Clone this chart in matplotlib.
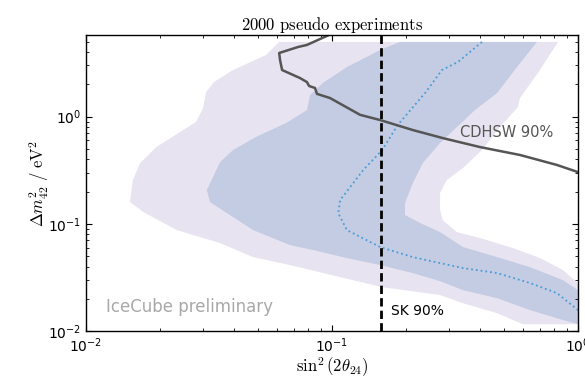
import numpy as np
import matplotlib
matplotlib.use('Agg')
import matplotlib.pyplot as plt

# sensitivity bands from 2000 pseudo experiments (outer band, inner band)
band_outer_s2t = [0.0610, 0.0540, 0.0396, 0.0331, 0.0308, 0.0299, 0.0280, 0.0193, 0.0166, 0.0155,
                  0.0151, 0.0171, 0.0234, 0.0351, 0.0478, 0.0675, 0.160, 0.275, 0.341, 0.469,
                  0.597, 1.0, 1.0, 0.869, 0.701, 0.545, 0.400, 0.322, 0.282, 0.275,
                  0.275, 0.293, 0.341, 0.407, 0.482, 0.570, 0.581, 0.687, 0.830]
band_outer_dm2 = [4.97, 3.76, 2.72, 2.10, 1.69, 1.20, 0.891, 0.520, 0.369, 0.256,
                  0.160, 0.129, 0.0875, 0.0662, 0.0490, 0.0413, 0.0257, 0.0217, 0.0182, 0.0147,
                  0.0116, 0.0116, 0.0281, 0.0371, 0.0480, 0.0594, 0.0738, 0.0838, 0.108, 0.135,
                  0.194, 0.256, 0.332, 0.488, 0.800, 1.23, 1.49, 2.55, 4.97]

band_inner_s2t = [0.189, 0.157, 0.115, 0.0918, 0.0815, 0.0791, 0.0650, 0.0491, 0.0396, 0.0351,
                  0.0310, 0.0319, 0.0374, 0.0478, 0.0675, 0.0838, 0.115, 0.157, 0.213, 0.275,
                  0.341, 0.469, 0.638, 0.869, 1.0, 1.0, 0.869, 0.638, 0.469, 0.341,
                  0.275, 0.228, 0.198, 0.198, 0.213, 0.234, 0.275, 0.322, 0.381, 0.469,
                  0.565, 0.681]
band_inner_dm2 = [4.97, 4.18, 2.90, 2.06, 1.59, 1.15, 0.871, 0.646, 0.488, 0.377,
                  0.207, 0.160, 0.126, 0.0875, 0.0634, 0.0570, 0.0480, 0.0413, 0.0348, 0.0292,
                  0.0241, 0.0203, 0.0157, 0.0127, 0.0116, 0.0241, 0.0299, 0.0395, 0.0490, 0.0608,
                  0.0838, 0.102, 0.121, 0.156, 0.240, 0.369, 0.568, 0.800, 1.15, 1.66,
                  2.90, 4.97]

# median sensitivity
median_s2t = [0.407, 0.325, 0.280, 0.239, 0.185, 0.160, 0.134, 0.108, 0.106, 0.115,
              0.157, 0.213, 0.275, 0.341, 0.469, 0.638, 0.822, 1.0]
median_dm2 = [4.97, 3.23, 2.72, 1.66, 0.836, 0.488, 0.318, 0.167, 0.126, 0.0875,
              0.0608, 0.0490, 0.0431, 0.0387, 0.0348, 0.0281, 0.0226, 0.0157]

# CDHSW 90% exclusion
cdhsw_s2t = [0.101, 0.0791, 0.0728, 0.0610, 0.0615, 0.0627, 0.0741, 0.0791, 0.0807, 0.0853,
             0.0869, 0.0982, 0.130, 0.157, 0.213, 0.282, 0.400, 0.581, 0.822, 1.0]
cdhsw_dm2 = [6.0, 4.66, 4.46, 3.92, 3.37, 2.72, 2.29, 2.10, 1.93, 1.85,
             1.63, 1.49, 1.04, 0.929, 0.750, 0.631, 0.520, 0.439, 0.354, 0.304]

# SK 90% limit
sk_s2t = 0.158

plt.rcParams['axes.unicode_minus'] = False

fig = plt.figure(figsize=(5.85, 3.78), dpi=100)
ax = fig.add_axes([0.147, 0.124, 0.841, 0.783])

ax.fill(band_outer_s2t, band_outer_dm2, color='#e8e3f0', lw=0)
ax.fill(band_inner_s2t, band_inner_dm2, color='#c3cce3', lw=0)
ax.plot(median_s2t, median_dm2, ':', color='#4a9bd6', lw=1.3)
ax.plot(cdhsw_s2t, cdhsw_dm2, '-', color='#555555', lw=1.8)
ax.axvline(sk_s2t, color='k', lw=2, dashes=(3, 1.5))

ax.set_xscale('log')
ax.set_yscale('log')
ax.set_xlim(1e-2, 1)
ax.set_ylim(1e-2, 5.75)

ax.tick_params(which='both', direction='in', top=True, right=True, labelsize=10)
ax.tick_params(which='major', length=4, width=0.8)
ax.tick_params(which='minor', length=2, width=0.6)
for sp in ax.spines.values():
    sp.set_linewidth(1.0)

ax.set_title(r'$\mathrm{2000\ pseudo\ experiments}$', math_fontfamily='cm', fontsize=12, pad=4)
ax.set_xlabel(r'$\sin^2(2\theta_{24})$', math_fontfamily='cm', fontsize=12, labelpad=1)
ax.set_ylabel(r'$\Delta m^2_{42}\ /\ \mathrm{eV}^2$', math_fontfamily='cm', fontsize=12, labelpad=-2)

ax.text(0.760, 0.672, 'CDHSW 90%', transform=ax.transAxes, color='#555555',
        fontsize=10.5, ha='left', va='center')
ax.text(0.620, 0.068, 'SK 90%', transform=ax.transAxes, color='black',
        fontsize=10, ha='left', va='center')
ax.text(0.041, 0.081, 'IceCube preliminary', transform=ax.transAxes, color='#a8a8a8',
        fontsize=12, ha='left', va='center')

fig.savefig('out.png', dpi=100)
